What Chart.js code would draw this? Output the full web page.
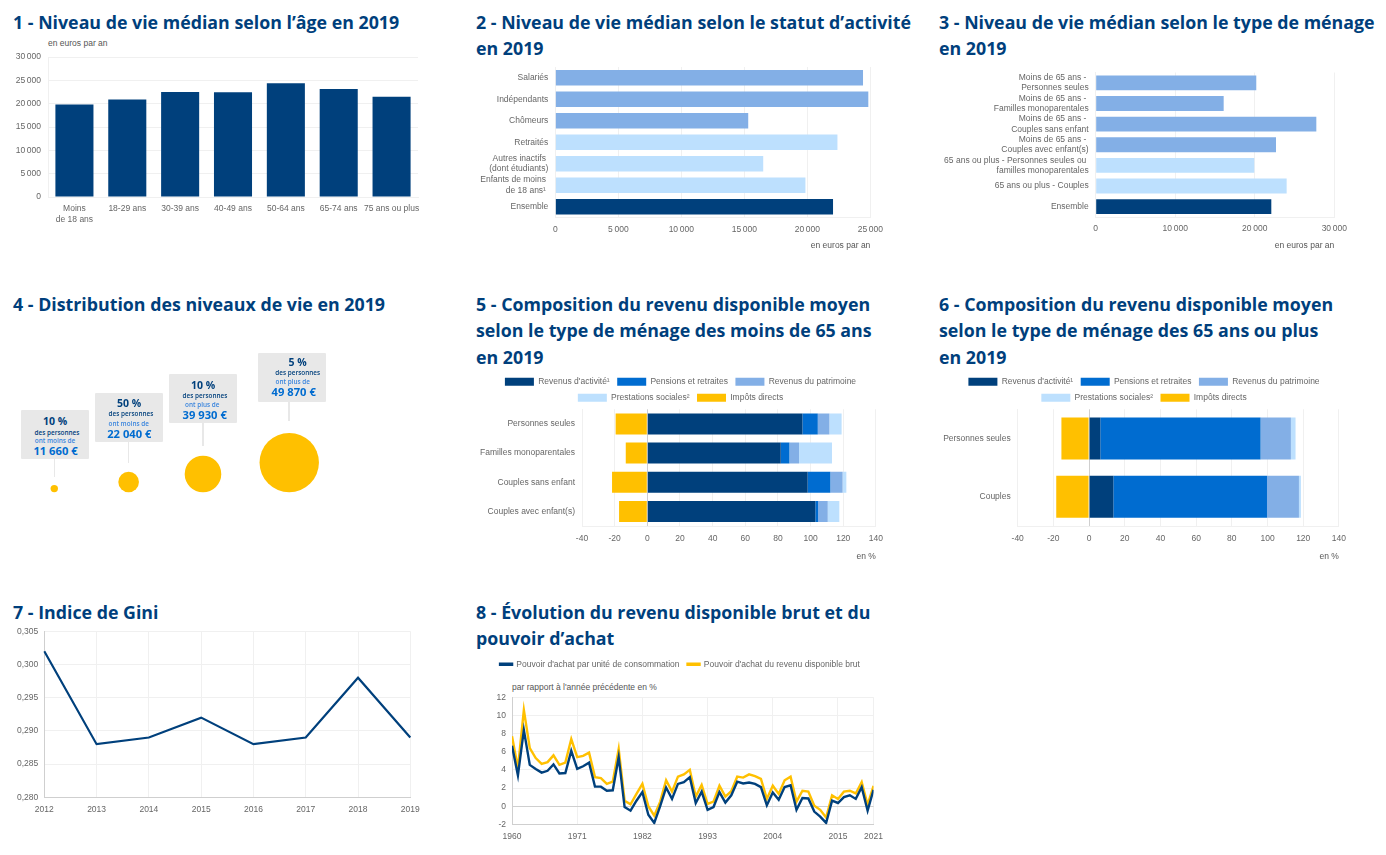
<!DOCTYPE html>
<html lang="fr">
<head>
<meta charset="utf-8">
<title>Niveaux de vie 2019</title>
<script src="https://cdn.jsdelivr.net/npm/chart.js@4/dist/chart.umd.min.js"></script>
<style>
  html, body { margin: 0; background: #fff; }
  #page { position: relative; width: 1386px; height: 855px; overflow: hidden; }
  canvas { position: absolute; }
  .titre { position: absolute; margin: 0; font: 700 17.8px/26.5px "Open Sans", sans-serif; color: #003f7c; white-space: nowrap; }
  .note { position: absolute; font: 8.5px "Liberation Sans", sans-serif; color: #555; white-space: nowrap; }
  .boite { position: absolute; width: 68px; height: 49px; background: #e8e8e8; border-radius: 1px; }
  .trait { position: absolute; width: 1.5px; background: #e8e8e8; }
  .ligne { position: absolute; transform: translate(-50%, -50%); font-family: "Open Sans", sans-serif; white-space: nowrap; }
</style>
</head>
<body>
<div id="page"></div>
<script>
// couleurs
var marine = "#00407c";
var bleu = "#006cd0";
var bleuMoyen = "#83afe6";
var bleuClair = "#bde0fe";
var jaune = "#ffc000";
var grille = "#f0f0f0";
var grilleForte = "#cfcfcf";
var gris = "#666666";

// 1 - age
var agesLabels = [["Moins", "de 18 ans"], "18-29 ans", "30-39 ans", "40-49 ans", "50-64 ans", "65-74 ans", "75 ans ou plus"];
var agesValeurs = [19800, 20900, 22500, 22430, 24360, 23140, 21500];

// 2 - statut d'activite
var statutLabels = ["Salariés", "Indépendants", "Chômeurs", "Retraités", ["Autres inactifs ", "(dont étudiants)"], ["Enfants de moins ", "de 18 ans¹ "], "Ensemble"];
var statutValeurs = [24420, 24840, 15310, 22390, 16500, 19850, 22040];
var statutCouleurs = [bleuMoyen, bleuMoyen, bleuMoyen, bleuClair, bleuClair, bleuClair, marine];

// 3 - type de menage
var menageLabels = [["Moins de 65 ans - ", "Personnes seules"], ["Moins de 65 ans - ", "Familles monoparentales"], ["Moins de 65 ans - ", "Couples sans enfant"], ["Moins de 65 ans - ", "Couples avec enfant(s)"], ["65 ans ou plus - Personnes seules ou ", "familles monoparentales"], "65 ans ou plus - Couples", "Ensemble"];
var menageValeurs = [20190, 16090, 27740, 22670, 19940, 24010, 22080];
var menageCouleurs = [bleuMoyen, bleuMoyen, bleuMoyen, bleuMoyen, bleuClair, bleuClair, marine];

// 4 - distribution
var distribPart = ["10 %", "50 %", "10 %", "5 %"];
var distribSens = ["ont moins de", "ont moins de", "ont plus de", "ont plus de"];
var distribSeuil = ["11 660 €", "22 040 €", "39 930 €", "49 870 €"];
var distribRang = [0, 1, 2, 3.16];
var distribRayon = [3.7, 10.3, 18.3, 29.7];

// 5 - composition moins de 65 ans
var compoSeries = ["Revenus d'activité¹", "Pensions et retraites", "Revenus du patrimoine", "Prestations sociales²", "Impôts directs"];
var compoCouleurs = [marine, bleu, bleuMoyen, bleuClair, jaune];
var moinsLabels = ["Personnes seules", "Familles monoparentales", "Couples sans enfant", "Couples avec enfant(s)"];
var moinsActivite = [95, 81.7, 98.2, 102.9];
var moinsPensions = [9.4, 5.3, 13.9, 1.7];
var moinsPatrimoine = [7.1, 5.9, 7.5, 5.9];
var moinsPrestations = [7.5, 20.2, 2.3, 7.1];
var moinsImpots = [-19.4, -13.2, -21.6, -17.3];

// 6 - composition 65 ans ou plus
var plusLabels = ["Personnes seules", "Couples"];
var plusActivite = [6.3, 13.6];
var plusPensions = [89.8, 86.1];
var plusPatrimoine = [17, 17.9];
var plusPrestations = [2.6, 1.1];
var plusImpots = [-15.5, -18.4];

// 7 - Gini
var giniAnnees = ["2012", "2013", "2014", "2015", "2016", "2017", "2018", "2019"];
var giniValeurs = [0.302, 0.288, 0.289, 0.292, 0.288, 0.289, 0.298, 0.289];

// 8 - pouvoir d'achat (1960 a 2021)
var achatDebut = 1960;
var achatTicks = [1960, 1971, 1982, 1993, 2004, 2015, 2021];
var achatUc = [6.65, 3.4, 8.4, 4.55, 4.1, 3.7, 3.9, 4.6, 3.6, 3.65, 6.1, 4.1, 4.4, 4.8, 2.15, 2.15, 1.7, 1.75, 5.4, -0.1, -0.5, 0.6, 1.55, -0.95, -1.85, 0, 2.05, 0.8, 2.45, 2.65, 3.2, 0.35, 1.6, -0.4, -0.1, 1.55, 0.4, 1.2, 2.7, 2.5, 2.6, 2.45, 2.1, 0.1, 1.5, 0.7, 2.1, 2.3, -0.4, 0.9, 0.85, -0.6, -1.15, -1.85, 0.6, 0.35, 1, 1.2, 0.8, 2.1, -0.5, 1.8];
var achatRdb = [7.7, 4.2, 10.6, 6.4, 5.3, 4.65, 4.85, 5.6, 4.55, 4.8, 7.4, 5.4, 5.55, 5.9, 3.2, 3.1, 2.45, 2.7, 6.3, 0.6, 0.2, 1.35, 2.45, 0, -1.05, 0.5, 2.85, 1.6, 3.25, 3.5, 4, 1.05, 2.35, 0.25, 0.5, 2.25, 1.05, 1.65, 3.25, 3.15, 3.5, 3.3, 3, 0.8, 2.25, 1.35, 2.85, 3.25, 0.5, 1.7, 1.6, 0.05, -0.4, -1.25, 1.2, 0.8, 1.6, 1.7, 1.4, 2.65, 0.15, 2.25];

var page = document.getElementById("page");
Chart.defaults.font.family = '"Liberation Sans", sans-serif';
Chart.defaults.font.size = 8.5;
Chart.defaults.color = gris;
Chart.defaults.animation = false;
Chart.defaults.responsive = false;

function titre(texte, x, y) {
  var el = document.createElement("h2");
  el.className = "titre";
  el.style.left = x + "px";
  el.style.top = y + "px";
  el.innerHTML = texte;
  page.appendChild(el);
}
function note(texte, x, y) {
  var el = document.createElement("div");
  el.className = "note";
  el.style.left = x + "px";
  el.style.top = y + "px";
  el.textContent = texte;
  page.appendChild(el);
}
function toile(x, y, w, h) {
  var c = document.createElement("canvas");
  c.width = w;
  c.height = h;
  c.style.left = x + "px";
  c.style.top = y + "px";
  page.appendChild(c);
  return c;
}
function milliers(v) {
  return String(v).replace(/\B(?=(\d{3})+$)/, "\u2009");
}
// changes the height legend.fit reports so the plot starts where wanted,
// and recentres the legend on the whole canvas (cote = right inset of the layout)
function margeLegende(px, cote) {
  return {
    id: "margeLegende",
    beforeInit: function (chart) {
      var fit = chart.legend.fit;
      chart.legend.fit = function () {
        fit.call(this);
        this.height += px;
      };
    },
    afterLayout: function (chart) {
      chart.legend.left = cote;
      chart.legend.right = chart.width - cote;
    }
  };
}
// box = canvas rect, plot = wanted plot area, both in page pixels
function cadre(box, plot, sansHaut) {
  return {
    cote: box.x + box.w - plot.r,
    padding: { left: 0, top: sansHaut ? 0 : plot.t - box.y, right: box.x + box.w - plot.r, bottom: 0 },
    largeur: function (s) { s.width = plot.l - box.x; },
    hauteur: function (s) { s.height = box.y + box.h - plot.b; }
  };
}
function grilleZero(ctx) {
  return ctx.tick && ctx.tick.value === 0 ? grilleForte : grille;
}

// barres horizontales 2 et 3
function barresH(box, plot, labels, valeurs, couleurs, max, pas) {
  var f = cadre(box, plot);
  new Chart(toile(box.x, box.y, box.w, box.h), {
    type: "bar",
    data: { labels: labels, datasets: [{ data: valeurs, backgroundColor: couleurs, barPercentage: 0.72, categoryPercentage: 1 }] },
    options: {
      indexAxis: "y",
      layout: { padding: f.padding },
      plugins: { legend: { display: false }, tooltip: { enabled: false } },
      scales: {
        x: {
          min: 0, max: max, afterFit: f.hauteur,
          grid: { color: grille, drawTicks: false }, border: { color: grille },
          ticks: { stepSize: pas, padding: 7, maxRotation: 0, callback: milliers },
          title: { display: true, text: "en euros par an", align: "end", color: "#555", padding: 0 }
        },
        y: {
          afterFit: f.largeur,
          grid: { display: false, drawTicks: false }, border: { color: grille },
          ticks: { padding: 7, autoSkip: false, font: { lineHeight: 1.21 } }
        }
      }
    }
  });
}

// barres empilees 5 et 6
function barresEmpilees(box, plot, labels, series) {
  var f = cadre(box, plot, true);
  var datasets = [];
  for (var i = 0; i < compoSeries.length; i++) {
    datasets.push({ label: compoSeries[i], data: series[i], backgroundColor: compoCouleurs[i], barPercentage: 0.72, categoryPercentage: 1 });
  }
  new Chart(toile(box.x, box.y, box.w, box.h), {
    type: "bar",
    data: { labels: labels, datasets: datasets },
    options: {
      indexAxis: "y",
      layout: { padding: f.padding },
      plugins: {
        tooltip: { enabled: false },
        legend: { labels: { boxWidth: 29, boxHeight: 8, padding: 7.5, color: gris, font: { size: 8.5 } } }
      },
      scales: {
        x: {
          stacked: true, min: -40, max: 140, afterFit: f.hauteur,
          grid: { color: grilleZero, drawTicks: false }, border: { color: grille },
          ticks: { stepSize: 20, padding: 8, maxRotation: 0 },
          title: { display: true, text: "en %", align: "end", color: "#555", padding: 0 }
        },
        y: {
          stacked: true, afterFit: f.largeur,
          grid: { display: false, drawTicks: false }, border: { color: grille },
          ticks: { padding: 7 }
        }
      }
    },
    plugins: [margeLegende(-2.7, f.cote)]
  });
}

// titres
titre("1 - Niveau de vie médian selon l’âge en 2019", 13, 8.5);
titre("2 - Niveau de vie médian selon le statut d’activité<br>en 2019", 476, 8.5);
titre("3 - Niveau de vie médian selon le type de ménage<br>en 2019", 939, 8.5);
titre("4 - Distribution des niveaux de vie en 2019", 13, 290.5);
titre("5 - Composition du revenu disponible moyen<br>selon le type de ménage des moins de 65 ans<br>en 2019", 476, 290.5);
titre("6 - Composition du revenu disponible moyen<br>selon le type de ménage des 65 ans ou plus<br>en 2019", 939, 290.5);
titre("7 - Indice de Gini", 13, 598.5);
titre("8 - Évolution du revenu disponible brut et du<br>pouvoir d’achat", 476, 598.5);

// graphique 1
(function () {
  var box = { x: 0, y: 40, w: 430, h: 190 };
  var plot = { l: 48, r: 418, t: 57, b: 197 };
  var f = cadre(box, plot);
  note("en euros par an", 48, 38);
  new Chart(toile(box.x, box.y, box.w, box.h), {
    type: "bar",
    data: { labels: agesLabels, datasets: [{ data: agesValeurs, backgroundColor: marine, barPercentage: 0.72, categoryPercentage: 1 }] },
    options: {
      layout: { padding: f.padding },
      plugins: { legend: { display: false }, tooltip: { enabled: false } },
      scales: {
        x: {
          afterFit: f.hauteur,
          grid: { display: false, drawTicks: false }, border: { color: grille },
          ticks: { padding: 7, maxRotation: 0, autoSkip: false, font: { lineHeight: 1.21 } }
        },
        y: {
          min: 0, max: 30000, afterFit: f.largeur,
          grid: { color: grille, drawTicks: false }, border: { color: grille },
          ticks: { stepSize: 5000, padding: 7, callback: milliers }
        }
      }
    }
  });
})();

barresH({ x: 470, y: 40, w: 420, h: 211 }, { l: 555.3, r: 871, t: 67, b: 217.5 }, statutLabels, statutValeurs, statutCouleurs, 25000, 5000);
barresH({ x: 930, y: 40, w: 430, h: 211 }, { l: 1095.7, r: 1334.3, t: 72.5, b: 217 }, menageLabels, menageValeurs, menageCouleurs, 30000, 10000);

// graphique 4 : bulles, y = rayon pour que les bulles reposent sur une meme base
(function () {
  var coins = [[21, 410], [95, 392.7], [169, 374], [257.7, 352.7]];
  var traits = [[54.3, 476.7], [128.3, 462.7], [203, 446], [289, 421]];
  // x of each text line inside the box, then y offsets
  var decalX = [[34, 36, 34, 34.5], [34, 36, 33.7, 34.3], [34, 36, 33.3, 35.7], [40, 40, 35, 36]];
  var decalY = [[11.3, 21.7, 30.3, 40], [10, 20.7, 30, 40], [11, 21.3, 30.3, 40], [9.3, 19.7, 28.7, 38.3]];
  var points = [];
  for (var i = 0; i < distribRang.length; i++) {
    points.push({ x: distribRang[i], y: distribRayon[i], r: distribRayon[i] });
  }
  new Chart(toile(0, 340, 345, 170), {
    type: "bubble",
    data: { datasets: [{ data: points, backgroundColor: jaune, borderWidth: 0 }] },
    options: {
      layout: { autoPadding: false },
      plugins: { legend: { display: false }, tooltip: { enabled: false } },
      scales: {
        x: { type: "linear", display: false, min: -0.73, max: 3.91 },
        y: { type: "linear", display: false, min: -17.7, max: 152.3 }
      }
    }
  });
  for (var j = 0; j < coins.length; j++) {
    var trait = document.createElement("div");
    trait.className = "trait";
    trait.style.left = (traits[j][0] - 0.75) + "px";
    trait.style.top = (coins[j][1] + 48) + "px";
    trait.style.height = (traits[j][1] - coins[j][1] - 48) + "px";
    page.appendChild(trait);
    var b = document.createElement("div");
    b.className = "boite";
    b.style.left = coins[j][0] + "px";
    b.style.top = coins[j][1] + "px";
    var textes = [distribPart[j], "des personnes", distribSens[j], distribSeuil[j]];
    var styles = ["font-size:10.5px;font-weight:700;color:#00407c", "font-size:6.4px;font-weight:600;color:#00407c", "font-size:6.4px;font-weight:600;color:#3a85dd", "font-size:11.2px;font-weight:700;color:#006cd0"];
    for (var k = 0; k < 4; k++) {
      var l = document.createElement("div");
      l.className = "ligne";
      l.style.cssText = styles[k] + ";left:" + decalX[j][k] + "px;top:" + decalY[j][k] + "px";
      l.textContent = textes[k];
      b.appendChild(l);
    }
    page.appendChild(b);
  }
})();

barresEmpilees({ x: 470, y: 370, w: 421, h: 192 }, { l: 582, r: 876.3, t: 409.3, b: 526 }, moinsLabels, [moinsActivite, moinsPensions, moinsPatrimoine, moinsPrestations, moinsImpots]);
barresEmpilees({ x: 934, y: 370, w: 420, h: 192 }, { l: 1017.7, r: 1339.7, t: 409.3, b: 526 }, plusLabels, [plusActivite, plusPensions, plusPatrimoine, plusPrestations, plusImpots]);

// graphique 7
(function () {
  var box = { x: 0, y: 610, w: 430, h: 210 };
  var plot = { l: 44.3, r: 410.3, t: 631.3, b: 797.3 };
  var f = cadre(box, plot);
  new Chart(toile(box.x, box.y, box.w, box.h), {
    type: "line",
    data: { labels: giniAnnees, datasets: [{ data: giniValeurs, borderColor: marine, borderWidth: 2.2, pointRadius: 0, tension: 0 }] },
    options: {
      layout: { padding: f.padding },
      plugins: { legend: { display: false }, tooltip: { enabled: false } },
      scales: {
        x: {
          offset: false, afterFit: f.hauteur,
          grid: { color: grille, drawTicks: false, offset: false }, border: { color: grilleForte },
          ticks: { padding: 7, maxRotation: 0, autoSkip: false }
        },
        y: {
          min: 0.28, max: 0.305, afterFit: f.largeur,
          grid: { color: grille, drawTicks: false }, border: { color: grilleForte },
          ticks: { stepSize: 0.005, padding: 6, callback: function (v) { return v.toFixed(3).replace(".", ","); } }
        }
      }
    }
  });
})();

// graphique 8
(function () {
  var box = { x: 470, y: 652, w: 420, h: 188 };
  var plot = { l: 512, r: 874.3, t: 697.3, b: 824.3 };
  var f = cadre(box, plot, true);
  note("par rapport à l'année précédente en %", 512, 682);
  function points(valeurs) {
    return valeurs.map(function (v, i) { return { x: achatDebut + i, y: v }; });
  }
  new Chart(toile(box.x, box.y, box.w, box.h), {
    type: "line",
    data: {
      datasets: [
        { label: "Pouvoir d'achat par unité de consommation", data: points(achatUc), borderColor: marine, backgroundColor: marine, borderWidth: 2.4, pointRadius: 0, tension: 0 },
        { label: "Pouvoir d'achat du revenu disponible brut", data: points(achatRdb), borderColor: jaune, backgroundColor: jaune, borderWidth: 2.4, pointRadius: 0, tension: 0 }
      ]
    },
    options: {
      layout: { padding: f.padding },
      plugins: {
        tooltip: { enabled: false },
        legend: { labels: { boxWidth: 12, boxHeight: 1, padding: 8, color: gris, font: { size: 8.5 } } }
      },
      scales: {
        x: {
          type: "linear", min: 1960, max: 2021, afterFit: f.hauteur,
          afterBuildTicks: function (s) { s.ticks = achatTicks.map(function (v) { return { value: v }; }); },
          grid: { color: grille, drawTicks: false }, border: { color: grilleForte },
          ticks: { padding: 7, maxRotation: 0, autoSkip: false, callback: function (v) { return String(v); } }
        },
        y: {
          min: -2, max: 12, afterFit: f.largeur,
          grid: { color: grilleZero, drawTicks: false }, border: { color: grilleForte },
          ticks: { stepSize: 2, padding: 6 }
        }
      }
    },
    plugins: [margeLegende(18.8, f.cote)]
  });
})();
</script>
</body>
</html>
